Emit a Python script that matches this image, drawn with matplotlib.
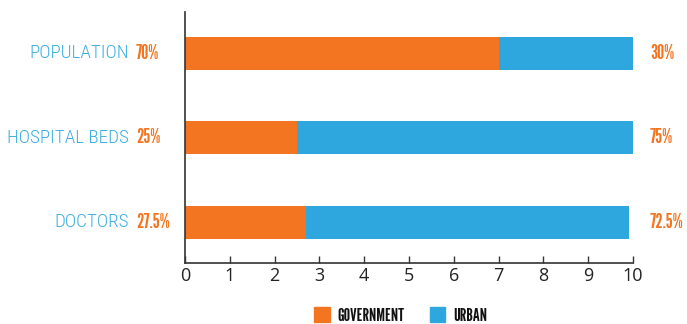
import matplotlib
matplotlib.use("Agg")
import matplotlib.pyplot as plt
from matplotlib.patches import Patch

categories = ["POPULATION", "HOSPITAL BEDS", "DOCTORS"]
government = [7.0, 2.5, 2.7]
urban = [3.0, 7.5, 7.22]
gov_labels = ["70%", "25%", "27.5%"]
urb_labels = ["30%", "75%", "72.5%"]
xticks = [0, 1, 2, 3, 4, 5, 6, 7, 8, 9, 10]
legend_labels = ["GOVERNMENT", "URBAN"]

ORANGE = "#F47521"
BLUE = "#2EA7DF"
CAT_BLUE = "#3AAEE2"

fig = plt.figure(figsize=(6.87, 3.24), dpi=100)
ax = fig.add_axes([185/687, 61/324, (633-185)/687, (263-12)/324])

y = list(range(len(categories)))
ax.barh(y, government, height=0.39, color=ORANGE)
ax.barh(y, urban, left=government, height=0.39, color=BLUE)

ax.set_xlim(0, 10)
ax.set_ylim(2.48, -0.49)
ax.set_yticks([])
ax.set_xticks(xticks)
ax.set_xticklabels([str(t) for t in xticks], fontsize=13, color="#222222", family="Open Sans")
ax.tick_params(axis="x", direction="in", length=5, width=1, color="#333333", pad=3)
for s in ["top", "right"]:
    ax.spines[s].set_visible(False)
for s in ["left", "bottom"]:
    ax.spines[s].set_color("#333333")
    ax.spines[s].set_linewidth(1.2)

px = 1/44.8
for i, cat in enumerate(categories):
    ax.text(-56*px, i, cat, ha="right", va="center", fontsize=13.8,
            color=CAT_BLUE, family="Roboto Condensed", weight="light", clip_on=False)
    ax.text(-49*px, i, gov_labels[i], ha="left", va="center", fontsize=14.5,
            color=ORANGE, family="League Gothic", clip_on=False)
    ax.text(10 + 17*px, i, urb_labels[i], ha="left", va="center", fontsize=14.5,
            color=ORANGE, family="League Gothic", clip_on=False)

handles = [Patch(color=ORANGE), Patch(color=BLUE)]
leg = fig.legend(handles, legend_labels, loc="center",
                 bbox_to_anchor=(401/687, 1 - 315.5/324), ncol=2, frameon=False,
                 handlelength=0.85, handleheight=0.85, columnspacing=1.4, handletextpad=0.45,
                 borderpad=0, borderaxespad=0,
                 prop={"family": "League Gothic", "size": 13})
for t in leg.get_texts():
    t.set_color("#111111")

fig.savefig("out.png", dpi=100)
